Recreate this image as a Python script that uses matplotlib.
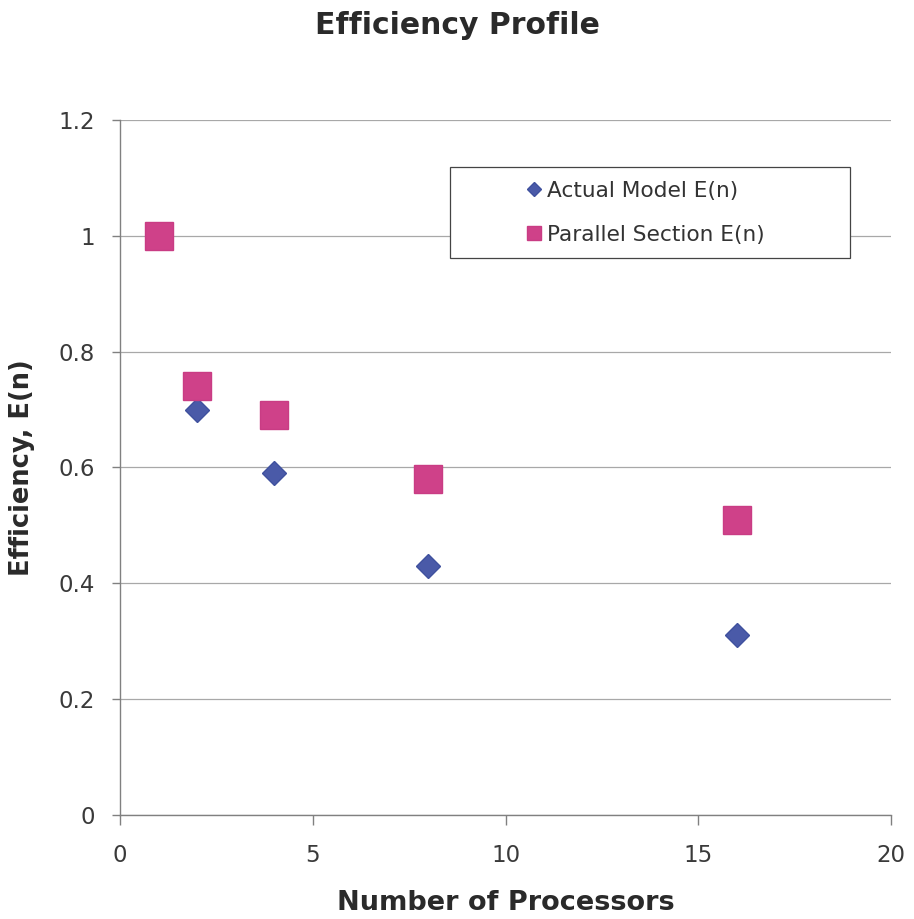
import matplotlib
matplotlib.use("Agg")
import matplotlib.pyplot as plt
from matplotlib.patches import Rectangle

plt.rcParams['font.family'] = ['DejaVu Sans']

processors_actual = [2, 4, 8, 16]
efficiency_actual = [0.70, 0.59, 0.43, 0.31]
processors_parallel = [1, 2, 4, 8, 16]
efficiency_parallel = [1.00, 0.74, 0.69, 0.58, 0.51]
x_ticks = [0, 5, 10, 15, 20]
y_ticks = [0, 0.2, 0.4, 0.6, 0.8, 1, 1.2]
y_tick_labels = ['0', '0.2', '0.4', '0.6', '0.8', '1', '1.2']

W, H = 914, 919
fig = plt.figure(figsize=(W / 100, H / 100), dpi=100)
ax = fig.add_axes([120 / W, 1 - 815 / H, (891 - 120) / W, (815 - 120) / H])

ax.plot(processors_actual, efficiency_actual, linestyle='none', marker='D',
        markersize=12.5, color='#4A5AA8', markeredgecolor='#3F519E',
        label='Actual Model E(n)', zorder=3)
ax.plot(processors_parallel, efficiency_parallel, linestyle='none', marker='s',
        markersize=19.5, color='#CF4189', markeredgecolor='#C93C84',
        label='Parallel Section E(n)', zorder=3)

ax.set_xlim(0, 20)
ax.set_ylim(0, 1.2)
ax.set_xticks(x_ticks)
ax.set_yticks(y_ticks)
ax.set_yticklabels(y_tick_labels)
ax.yaxis.grid(True, color='#a8a8a8', linewidth=0.9)
ax.set_axisbelow(True)
for s in ['top', 'right']:
    ax.spines[s].set_visible(False)
for s in ['left', 'bottom']:
    ax.spines[s].set_color('#808080')
    ax.spines[s].set_linewidth(1.0)
ax.tick_params(axis='both', direction='out', width=1.0,
               color='#808080', labelsize=16.5, labelcolor='#3a3a3a')
ax.tick_params(axis='y', length=6, pad=12)
ax.tick_params(axis='x', length=7, pad=14)

ax.set_xlabel('Number of Processors', fontsize=19.5, fontweight='bold',
              color='#2a2a2a')
ax.xaxis.set_label_coords(0.5, (815 - 903) / 695, transform=ax.transAxes)
ax.xaxis.label.set_va('center')
ax.set_ylabel('Efficiency, E(n)', fontsize=18.5, fontweight='bold',
              color='#2a2a2a')
ax.yaxis.set_label_coords((22 - 120) / 771, 0.5, transform=ax.transAxes)
ax.yaxis.label.set_va('center')
fig.text(0.5, 1 - 25 / H, 'Efficiency Profile', fontsize=21.5, fontweight='bold',
         color='#2a2a2a', ha='center', va='center')

# legend frame
ax.add_patch(Rectangle((450 / W, 1 - 258 / H), 400 / W, 91 / H,
                       transform=fig.transFigure, facecolor='white',
                       edgecolor='#444444', linewidth=0.9, zorder=5,
                       clip_on=False))
leg = ax.legend(loc='center left', bbox_to_anchor=(526 / W, 1 - 213 / H),
                bbox_transform=fig.transFigure, ncol=1, fontsize=15.6,
                frameon=False, handlelength=0.75, handletextpad=0.22,
                borderpad=0, labelspacing=1.1, borderaxespad=0)
leg.set_zorder(6)
for t in leg.get_texts():
    t.set_color('#333333')
hs = leg.legend_handles
hs[0].set_markersize(7.6)
hs[1].set_markersize(10.5)

fig.savefig('out.png', dpi=100, facecolor='white')
